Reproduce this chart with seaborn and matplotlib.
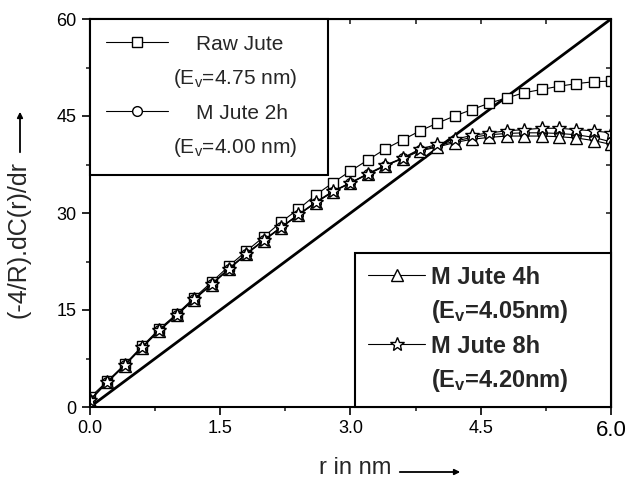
import numpy as np
import pandas as pd
import matplotlib
matplotlib.use('Agg')
import matplotlib.pyplot as plt
import seaborn as sns
from matplotlib.lines import Line2D
from matplotlib.ticker import MultipleLocator

# data
r = [0.0, 0.2, 0.4, 0.6, 0.8, 1.0, 1.2, 1.4, 1.6, 1.8, 2.0, 2.2, 2.4, 2.6, 2.8, 3.0,
     3.2, 3.4, 3.6, 3.8, 4.0, 4.2, 4.4, 4.6, 4.8, 5.0, 5.2, 5.4, 5.6, 5.8, 6.0]
raw_jute = [1.5, 4.0, 6.6, 9.4, 12.1, 14.4, 16.9, 19.3, 21.8, 24.1, 26.3, 28.6, 30.6, 32.8, 34.7, 36.5,
            38.2, 39.9, 41.3, 42.7, 43.9, 45.0, 46.0, 47.0, 47.8, 48.6, 49.1, 49.6, 50.0, 50.3, 50.4]
m_jute_2h = [1.1, 3.9, 6.5, 9.2, 11.9, 14.3, 16.7, 19.0, 21.4, 23.7, 25.8, 27.8, 29.7, 31.6, 33.3, 34.7,
             36.0, 37.3, 38.5, 39.7, 40.4, 41.1, 41.7, 42.1, 42.3, 42.4, 42.4, 42.3, 42.1, 41.7, 41.0]
m_jute_4h = [1.0, 3.8, 6.4, 9.2, 11.8, 14.2, 16.6, 18.9, 21.3, 23.6, 25.7, 27.7, 29.7, 31.6, 33.3, 34.6,
             36.0, 37.3, 38.4, 39.6, 40.2, 40.9, 41.4, 41.7, 41.9, 41.9, 41.9, 41.8, 41.6, 41.2, 40.6]
m_jute_8h = [1.1, 3.9, 6.5, 9.3, 11.9, 14.3, 16.7, 19.0, 21.4, 23.7, 25.8, 27.8, 29.8, 31.7, 33.4, 34.7,
             36.1, 37.4, 38.5, 39.9, 40.6, 41.4, 42.0, 42.4, 42.7, 42.9, 43.1, 43.1, 42.9, 42.7, 42.4]
ref_r = [0.0, 6.0]
ref_y = [0.0, 60.0]

sns.set_style('ticks')
plt.rcParams['font.family'] = ['Liberation Sans', 'DejaVu Sans']
plt.rcParams['mathtext.default'] = 'regular'

fig = plt.figure(figsize=(6.3, 4.78), dpi=100)
ax = fig.add_axes([90 / 630, 71 / 478, 521 / 630, 388 / 478])

sns.lineplot(x=ref_r, y=ref_y, color='black', linewidth=2, ax=ax)

mk = dict(color='black', linewidth=0.8, markerfacecolor='white',
          markeredgecolor='black', markeredgewidth=1.0)
sns.lineplot(x=r, y=raw_jute, marker='s', markersize=7, ax=ax, **mk)
sns.lineplot(x=r, y=m_jute_2h, marker='o', markersize=7, ax=ax, **mk)
sns.lineplot(x=r, y=m_jute_4h, marker='^', markersize=8, ax=ax, **mk)
sns.lineplot(x=r, y=m_jute_8h, marker='*', markersize=10.5, ax=ax, **mk)

ax.set_xlim(0, 6)
ax.set_ylim(0, 60)
ax.xaxis.set_major_locator(MultipleLocator(1.5))
ax.xaxis.set_minor_locator(MultipleLocator(0.75))
ax.yaxis.set_major_locator(MultipleLocator(15))
ax.yaxis.set_minor_locator(MultipleLocator(7.5))
ax.tick_params(which='major', direction='out', length=5.5, width=1.2, labelsize=13,
               colors='black', pad=4)
ax.tick_params(which='minor', direction='out', length=3, width=1.2)
for s in ax.spines.values():
    s.set_linewidth(1.5)
    s.set_color('black')

secx = ax.secondary_xaxis('top')
secx.xaxis.set_major_locator(MultipleLocator(0.75))
secx.tick_params(direction='in', length=3.5, width=1.2, labeltop=False)
secy = ax.secondary_yaxis('right')
secy.yaxis.set_major_locator(MultipleLocator(7.5))
secy.tick_params(direction='in', length=3.5, width=1.2, labelright=False)

ax.set_xlabel('')
ax.set_ylabel('')
for lab in ax.get_xticklabels():
    if lab.get_text() == '6.0':
        lab.set_fontsize(16)

# axis titles with arrows
fig.text(19 / 630, 238 / 478, '(-4/R).dC(r)/dr', rotation=90, ha='center', va='center', fontsize=18)
ax.annotate('', xy=(20, 369), xytext=(20, 323), xycoords='figure pixels',
            arrowprops=dict(arrowstyle='-|>', color='black', lw=1.3, mutation_scale=8))
fig.text(355 / 630, 10 / 478, 'r in nm', ha='center', va='center', fontsize=17)
ax.annotate('', xy=(463, 6), xytext=(397, 6), xycoords='figure pixels',
            arrowprops=dict(arrowstyle='-|>', color='black', lw=1.3, mutation_scale=8))

blank = Line2D([], [], color='none')
h_raw = Line2D([], [], marker='s', markersize=7, **mk)
h_2h = Line2D([], [], marker='o', markersize=7, **mk)
h_4h = Line2D([], [], marker='^', markersize=8, **mk)
h_8h = Line2D([], [], marker='*', markersize=10.5, **mk)

leg1 = ax.legend([h_raw, blank, h_2h, blank],
                 ['    Raw Jute', '(E$_v$=4.75 nm)', '    M Jute 2h', '(E$_v$=4.00 nm)'],
                 loc='upper left', bbox_to_anchor=(0, 0, 0.457, 1), mode='expand',
                 borderaxespad=0, frameon=True, fancybox=False, edgecolor='black',
                 fontsize=15, handlelength=3.0, handletextpad=0.25, labelspacing=0.65,
                 borderpad=0.75, framealpha=1)
leg1.get_frame().set_linewidth(1.5)
ax.add_artist(leg1)

leg2 = ax.legend([h_4h, blank, h_8h, blank],
                 ['M Jute 4h', '(E$_v$=4.05nm)', 'M Jute 8h', '(E$_v$=4.20nm)'],
                 loc='lower left', bbox_to_anchor=(0.509, 0, 0.491, 0.4), mode='expand',
                 borderaxespad=0, frameon=True, fancybox=False, edgecolor='black',
                 prop={'size': 17, 'weight': 'bold'}, handlelength=2.4, handletextpad=0.25,
                 labelspacing=0.4, borderpad=0.55, framealpha=1)
leg2.get_frame().set_linewidth(1.5)

fig.savefig('out.png', dpi=100)
